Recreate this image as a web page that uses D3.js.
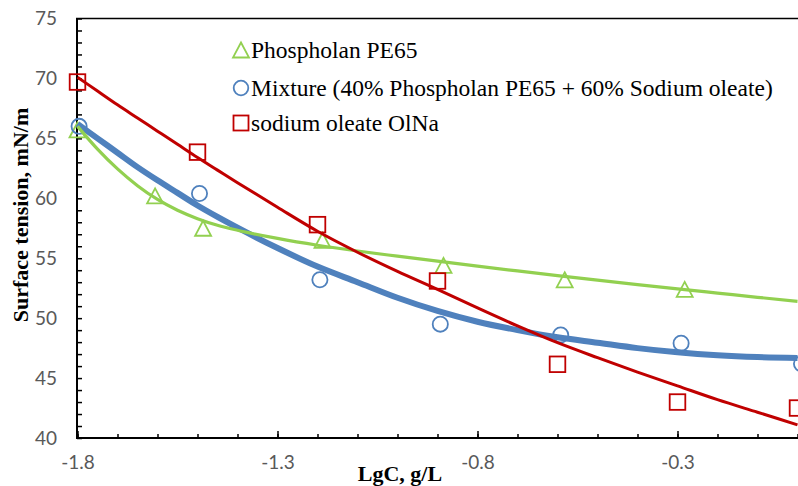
<!DOCTYPE html>
<html><head><meta charset="utf-8">
<script src="https://cdn.jsdelivr.net/npm/d3@7/dist/d3.min.js"></script>
<style>body{margin:0;background:#fff}svg{display:block}</style>
</head><body><svg id="c" width="798" height="486"></svg>
<script>
// ---- data ----
const xTickValues = [-1.8, -1.3, -0.8, -0.3];
const xTickLabels = ["-1.8", "-1.3", "-0.8", "-0.3"];
const yTickValues = [40, 45, 50, 55, 60, 65, 70, 75];
const seriesNames = ["Phospholan PE65", "Mixture (40% Phospholan PE65 + 60% Sodium oleate)", "sodium oleate OlNa"];
const seriesColors = ["#92D050", "#4F81BD", "#C00000"];

const pheX = [-1.8, -1.606, -1.486, -1.1875, -0.885, -0.582, -0.282];
const pheY = [65.7, 60.2, 57.5, 56.5, 54.4, 53.2, 52.4];
const mixX = [-1.796, -1.495, -1.194, -0.893, -0.592, -0.291, 0.010];
const mixY = [66.0, 60.4, 53.2, 49.5, 48.6, 47.9, 46.2];
const oleX = [-1.8, -1.5, -1.2, -0.9, -0.6, -0.3, 0.0];
const oleY = [69.7, 63.85, 57.8, 53.1, 46.15, 43.0, 42.5];

// trendlines
const trendX = [-1.8,-1.75,-1.7,-1.65,-1.6,-1.55,-1.5,-1.45,-1.4,-1.3,-1.2,-1.1,-1.0,-0.9,-0.8,-0.7,-0.6,-0.5,-0.4,-0.3,-0.2,-0.1,0.0];
const pheTrend = [66.0,64.1,62.45,61.05,59.9,59.0,58.3,57.75,57.33,56.65,56.08,55.6,55.17,54.75,54.34,53.94,53.55,53.17,52.8,52.44,52.09,51.74,51.4];
const mixTrend = [66.2,65.0,63.8,62.6,61.5,60.45,59.4,58.45,57.55,55.85,54.3,53.0,51.7,50.6,49.7,49.0,48.4,47.95,47.5,47.15,46.9,46.75,46.68];
const oleTrend = [70.1,68.95,67.8,66.7,65.6,64.5,63.4,62.35,61.3,59.25,57.25,55.5,53.9,52.4,50.85,49.35,47.95,46.7,45.5,44.35,43.2,42.15,41.1];

// ---- chart ----
const svg = d3.select("#c");
const x = d3.scaleLinear().domain([-1.8, 0.0]).range([77.5, 797.5]);
const y = d3.scaleLinear().domain([40, 75]).range([438, 18.5]);

const tickFont = "Lato, 'Open Sans', sans-serif";
const serif = "'Liberation Serif', 'Times New Roman', serif";

// y labels
const gyl = svg.append("g").attr("transform", "translate(77,0)")
  .call(d3.axisLeft(y).tickValues(yTickValues).tickSize(0).tickPadding(20).tickFormat(d3.format("d")));
gyl.select(".domain").remove();
gyl.selectAll("text").attr("font-family", tickFont).attr("font-size", 19).attr("fill", "#595959");

// y ticks (inside, every 1 unit)
const gyt = svg.append("g").attr("transform", "translate(77,0)")
  .call(d3.axisRight(y).tickValues(d3.range(40, 75.5, 1)).tickSize(5).tickFormat(""));
gyt.select(".domain").remove();
gyt.selectAll("line").attr("stroke", "#000").attr("stroke-width", 1.5);

// x labels
const gxl = svg.append("g").attr("transform", "translate(0,438)")
  .call(d3.axisBottom(x).tickValues(xTickValues).tickSize(0).tickPadding(18).tickFormat((d, i) => xTickLabels[i]));
gxl.select(".domain").remove();
gxl.selectAll("text").attr("font-family", tickFont).attr("font-size", 19).attr("fill", "#595959");

// x minor/major ticks (inside)
const gxm = svg.append("g").attr("transform", "translate(0,438)")
  .call(d3.axisTop(x).tickValues(d3.range(-1.8, 0.05, 0.1)).tickSize(4).tickFormat(""));
gxm.select(".domain").remove();
gxm.selectAll("line").attr("stroke", "#000").attr("stroke-width", 1.5);
const gxM = svg.append("g").attr("transform", "translate(0,438)")
  .call(d3.axisTop(x).tickValues(xTickValues).tickSize(7).tickFormat(""));
gxM.select(".domain").remove();
gxM.selectAll("line").attr("stroke", "#000").attr("stroke-width", 1.5);

// axis lines
svg.append("line").attr("x1", 77).attr("x2", 77).attr("y1", y(75)).attr("y2", 439).attr("stroke", "#000").attr("stroke-width", 2);
svg.append("line").attr("x1", 76).attr("x2", 798).attr("y1", 438).attr("y2", 438).attr("stroke", "#000").attr("stroke-width", 2);
svg.append("line").attr("x1", 76).attr("x2", 798).attr("y1", y(75)).attr("y2", y(75)).attr("stroke", "#000").attr("stroke-width", 1.5);

// axis titles
svg.append("text").attr("x", 400).attr("y", 481).attr("text-anchor", "middle")
  .attr("font-family", serif).attr("font-weight", "bold").attr("font-size", 22).text("LgC, g/L");
svg.append("text").attr("transform", "translate(28,215) rotate(-90)").attr("text-anchor", "middle")
  .attr("font-family", serif).attr("font-weight", "bold").attr("font-size", 22).text("Surface tension, mN/m");

// markers
function drawMarkers(xs, ys, kind, color) {
  const g = svg.append("g");
  const pts = xs.map((v, i) => [x(v), y(ys[i])]);
  if (kind === "tri") {
    g.selectAll("path").data(pts).join("path")
      .attr("d", "M0,-7.5L8,7.5L-8,7.5Z")
      .attr("transform", d => `translate(${d[0]},${d[1]})`)
      .attr("fill", "none").attr("stroke", color).attr("stroke-width", 1.8);
  } else if (kind === "circ") {
    g.selectAll("circle").data(pts).join("circle")
      .attr("cx", d => d[0]).attr("cy", d => d[1]).attr("r", 7.6)
      .attr("fill", "none").attr("stroke", color).attr("stroke-width", 1.8);
  } else {
    g.selectAll("rect").data(pts).join("rect")
      .attr("x", d => d[0] - 7.8).attr("y", d => d[1] - 7.8).attr("width", 15.6).attr("height", 15.6)
      .attr("fill", "none").attr("stroke", color).attr("stroke-width", 1.8);
  }
}
drawMarkers(pheX, pheY, "tri", seriesColors[0]);
drawMarkers(mixX, mixY, "circ", seriesColors[1]);
drawMarkers(oleX, oleY, "sq", seriesColors[2]);

// trendlines
const line = d3.line().x(d => x(d[0])).y(d => y(d[1])).curve(d3.curveMonotoneX);
svg.append("path").attr("d", line(trendX.map((v, i) => [v, mixTrend[i]])))
  .attr("fill", "none").attr("stroke", seriesColors[1]).attr("stroke-width", 6);
svg.append("path").attr("d", line(trendX.map((v, i) => [v, pheTrend[i]])))
  .attr("fill", "none").attr("stroke", seriesColors[0]).attr("stroke-width", 3.2);
svg.append("path").attr("d", line(trendX.map((v, i) => [v, oleTrend[i]])))
  .attr("fill", "none").attr("stroke", seriesColors[2]).attr("stroke-width", 3);

// legend
const legY = [50, 88, 123];
const leg = svg.append("g");
seriesNames.forEach((name, i) => {
  const cy = legY[i], cx = 241;
  if (i === 0) leg.append("path").attr("d", "M0,-7.5L8,7.5L-8,7.5Z").attr("transform", `translate(${cx},${cy})`)
    .attr("fill", "none").attr("stroke", seriesColors[0]).attr("stroke-width", 1.8);
  if (i === 1) leg.append("circle").attr("cx", cx).attr("cy", cy).attr("r", 7.3)
    .attr("fill", "none").attr("stroke", seriesColors[1]).attr("stroke-width", 1.8);
  if (i === 2) leg.append("rect").attr("x", cx - 7.5).attr("y", cy - 7.5).attr("width", 15).attr("height", 15)
    .attr("fill", "none").attr("stroke", seriesColors[2]).attr("stroke-width", 1.8);
  leg.append("text").attr("x", 251).attr("y", cy + 7.5).attr("font-family", serif).attr("font-size", 23.5)
    .attr("fill", "#000").text(name);
});
</script></body></html>
